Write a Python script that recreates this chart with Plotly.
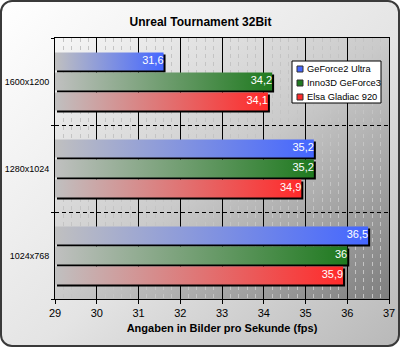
import base64
import plotly.graph_objects as go

# ---------------- data ----------------
title = "Unreal Tournament 32Bit"
x_title = "Angaben in Bilder pro Sekunde (fps)"
groups = ["1600x1200", "1280x1024", "1024x768"]
series = ["GeForce2 Ultra", "Inno3D GeForce3", "Elsa Gladiac 920"]
geforce2_ultra = [31.6, 35.2, 36.5]
inno3d_geforce3 = [34.2, 35.2, 36.0]
elsa_gladiac_920 = [34.1, 34.9, 35.9]
values = [geforce2_ultra, inno3d_geforce3, elsa_gladiac_920]
colors = ["#4466ff", "#1f7a1f", "#ff2a2a"]
x_min, x_max = 29, 37

# ---------------- layout geometry (pixels) ----------------
W, H = 401, 348
PL, PR, PT, PB = 55, 389, 38, 299   # plot area edges
FONT = "Liberation Sans, Arial, sans-serif"

def px_x(x):
    return x / W

def px_y(y):
    return 1 - y / H

ppu_x = (PR - PL) / (x_max - x_min)
ppu_y = (PB - PT) / len(groups)
half_h = 9 / ppu_y          # half bar height (18 px bars)
step = 20 / ppu_y           # spacing between bars in a group
sh_x = 2 / ppu_x            # shadow offset
sh_y = 2 / ppu_y

# ---------------- background (svg image) ----------------
svg = f"""<svg xmlns='http://www.w3.org/2000/svg' width='{W}' height='{H}' viewBox='0 0 {W} {H}'>
<defs>
<linearGradient id='o' x1='0' y1='0' x2='1' y2='1'>
<stop offset='0' stop-color='#ffffff'/><stop offset='0.55' stop-color='#e4e4e4'/><stop offset='1' stop-color='#b8b8b8'/>
</linearGradient>
<linearGradient id='p' x1='0' y1='0' x2='1' y2='1'>
<stop offset='0' stop-color='#f6f6f6'/><stop offset='0.5' stop-color='#cacaca'/><stop offset='1' stop-color='#7e7e7e'/>
</linearGradient>
</defs>
<rect width='{W}' height='{H}' fill='#ffffff'/>
<rect x='1' y='1' width='{W-3}' height='{H-3}' rx='11' ry='11' fill='url(#o)' stroke='#3a3a3a' stroke-width='2'/>
<rect x='{PL}' y='{PT}' width='{PR-PL}' height='{PB-PT}' fill='url(#p)'/>
</svg>"""
svg_uri = "data:image/svg+xml;base64," + base64.b64encode(svg.encode()).decode()

fig = go.Figure()

n = len(groups)
centers = [n - 1 - i for i in range(n)]  # top group first

def fmt(v):
    s = f"{v:.1f}"
    if s.endswith(".0"):
        s = s[:-2]
    return s.replace(".", ",")

# shadows
for j, s in enumerate(series):
    for i, g in enumerate(groups):
        yc = centers[i] + (1 - j) * step
        v = values[j][i]
        y0, y1 = yc - half_h - sh_y, yc + half_h - sh_y
        x0, x1 = x_min + sh_x, v + sh_x
        fig.add_trace(go.Scatter(
            x=[x0, x1, x1, x0, x0], y=[y0, y0, y1, y1, y0],
            fill="toself", fillcolor="#000000", mode="lines",
            line=dict(width=0, color="#000000"), hoverinfo="skip",
            showlegend=False))

# bars with gradient
for j, s in enumerate(series):
    for i, g in enumerate(groups):
        yc = centers[i] + (1 - j) * step
        v = values[j][i]
        y0, y1 = yc - half_h, yc + half_h
        fig.add_trace(go.Scatter(
            x=[x_min, v, v, x_min, x_min], y=[y0, y0, y1, y1, y0],
            fill="toself", mode="lines", line=dict(width=0, color=colors[j]),
            fillgradient=dict(type="horizontal",
                              colorscale=[[0, "#c0c0c0"], [1, colors[j]]]),
            name=s, legendgroup=s, showlegend=False,
            hovertemplate=f"{g}<br>{s}: {fmt(v)}<extra></extra>"))

# value labels
for j, s in enumerate(series):
    ys = [centers[i] + (1 - j) * step for i in range(n)]
    fig.add_trace(go.Scatter(
        x=values[j], y=ys, mode="text", text=[fmt(v) for v in values[j]],
        textposition="middle left",
        textfont=dict(family=FONT, size=11, color="#ffffff"),
        hoverinfo="skip", showlegend=False))

# manual legend (box, swatches, labels)
shapes = [dict(type="rect", xref="paper", yref="paper",
               x0=px_x(292), x1=px_x(381), y0=px_y(103), y1=px_y(61),
               fillcolor="#ffffff", line=dict(color="#000000", width=1), layer="above")]
annotations = []
for j, s in enumerate(series):
    yc = 69 + j * 14
    shapes.append(dict(type="rect", xref="paper", yref="paper",
                       x0=px_x(297), x1=px_x(303), y0=px_y(yc + 3), y1=px_y(yc - 3),
                       fillcolor=colors[j], line=dict(color="#303030", width=1), layer="above"))
    annotations.append(dict(xref="paper", yref="paper", x=px_x(305), y=px_y(yc),
                            xanchor="left", yanchor="middle", showarrow=False,
                            text=s, font=dict(family=FONT, size=9.3, color="#000000")))

fig.update_layout(
    width=W, height=H, autosize=False,
    margin=dict(l=0, r=0, t=0, b=0, pad=0, autoexpand=False),
    paper_bgcolor="#ffffff", plot_bgcolor="rgba(0,0,0,0)",
    showlegend=False,
    title=dict(text=f"<b>{title}</b>", x=0.5, xanchor="center", y=px_y(22), yanchor="middle",
               font=dict(family=FONT, size=12, color="#000000")),
    images=[dict(source=svg_uri, xref="paper", yref="paper", x=0, y=1,
                 sizex=1, sizey=1, sizing="stretch", layer="below", xanchor="left", yanchor="top")],
    shapes=shapes, annotations=annotations,
    xaxis=dict(domain=[px_x(PL), px_x(PR)], range=[x_min, x_max], automargin=False,
               tickmode="linear", tick0=x_min, dtick=1,
               showgrid=True, gridcolor="#000000", gridwidth=1,
               minor=dict(dtick=0.2, showgrid=True, gridcolor="#c4c4c4", griddash="4px,4px", gridwidth=1),
               ticks="outside", ticklen=4, tickcolor="#000000",
               showline=True, linecolor="#000000", linewidth=1, mirror=True, zeroline=False,
               tickfont=dict(family=FONT, size=11, color="#000000"),
               title=dict(text=f"<b>{x_title}</b>", standoff=6,
                          font=dict(family=FONT, size=11, color="#000000"))),
    yaxis=dict(domain=[px_y(PB), px_y(PT)], range=[-0.5, n - 0.5], automargin=False,
               tickmode="array", tickvals=centers, ticktext=groups,
               ticks="", showgrid=False, zeroline=False, ticklabelstandoff=3,
               showline=True, linecolor="#000000", linewidth=1, mirror=True,
               tickfont=dict(family=FONT, size=9, color="#000000"),
               minor=dict(tickmode="array", tickvals=[k - 0.5 for k in range(n + 1)],
                          showgrid=True, gridcolor="#000000", griddash="4px,3px", gridwidth=1,
                          ticks="outside", ticklen=3, tickcolor="#000000")),
)

fig.write_html("out.html")
